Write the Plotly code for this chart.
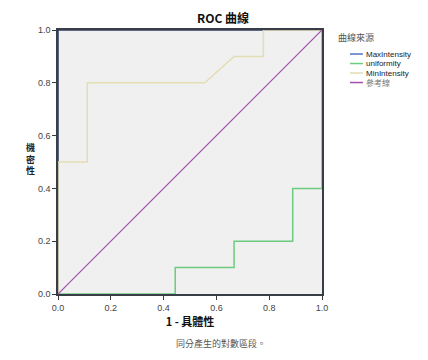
import plotly.graph_objects as go

# Data
max_x = [0.0, 0.0, 1.0]
max_y = [0.0, 1.0, 1.0]
uni_x = [0.0, 0.444, 0.444, 0.667, 0.667, 0.889, 0.889, 1.0, 1.0]
uni_y = [0.0, 0.0, 0.1, 0.1, 0.2, 0.2, 0.4, 0.4, 1.0]
min_x = [0.0, 0.0, 0.111, 0.111, 0.556, 0.667, 0.778, 0.778, 1.0]
min_y = [0.0, 0.5, 0.5, 0.8, 0.8, 0.9, 0.9, 1.0, 1.0]
ref_x = [0.0, 1.0]
ref_y = [0.0, 1.0]
tick_vals = [0.0, 0.2, 0.4, 0.6, 0.8, 1.0]
tick_text = ["0.0", "0.2", "0.4", "0.6", "0.8", "1.0"]
series_names = ["MaxIntensity", "uniformity", "MinIntensity", "參考線"]
series_colors = ["#5470C6", "#6CCB7E", "#E3DDB4", "#A04FAA"]
# colours of the marks where they run under the dark frame
plot_colors = ["#2F3B66", "#6CCB7E", "#E3DDB4", "#A04FAA"]

LAT = "Liberation Sans, Arial, sans-serif"
CJK = "Noto Sans CJK TC, sans-serif"

fig = go.Figure()
xs = [max_x, uni_x, min_x, ref_x]
ys = [max_y, uni_y, min_y, ref_y]
widths = [1.5, 1.5, 1.5, 1.2]
for x, y, n, c, w in zip(xs, ys, series_names, plot_colors, widths):
    fig.add_trace(go.Scatter(x=x, y=y, mode="lines", name=n,
                             line=dict(color=c, width=w), cliponaxis=False,
                             showlegend=False))

axis_common = dict(range=[0, 1], tickvals=tick_vals, ticktext=tick_text,
                   showgrid=False, zeroline=False, showline=True,
                   linecolor="rgba(25,30,40,0.86)", linewidth=1.6, ticks="outside",
                   ticklen=4, tickcolor="#3a3a3a", automargin=False,
                   tickfont=dict(family=LAT, size=9, color="#444"), mirror=True)

fig.update_layout(
    width=420, height=352,
    margin=dict(l=50, r=106, t=22, b=66),
    paper_bgcolor="white", plot_bgcolor="#F0F0F0",
    title=dict(text="<b>ROC 曲線</b>", x=0.512, xanchor="center", y=0.969, yanchor="middle",
               font=dict(family=CJK, size=12, color="#111")),
    xaxis=dict(**axis_common,
               title=dict(text="<b>1 - 具體性</b>", font=dict(family=CJK, size=11, color="#111"),
                          standoff=5)),
    yaxis=dict(**axis_common),
    showlegend=False,
)

# y-axis title, stacked characters
fig.add_annotation(text="<b>機<br>密<br>性</b>", xref="paper", yref="paper",
                   x=-0.106, y=0.51, xanchor="center", yanchor="middle", showarrow=False,
                   align="center", font=dict(family=CJK, size=9, color="#222"))

# custom compact legend
fig.add_annotation(text="曲線來源", xref="paper", yref="paper", x=1.129, y=0.970,
                   xanchor="center", yanchor="middle", showarrow=False,
                   font=dict(family=CJK, size=9, color="#555"))
leg_y = [0.909, 0.873, 0.837, 0.801]
for n, c, yy in zip(series_names, series_colors, leg_y):
    fig.add_shape(type="line", xref="paper", yref="paper", x0=1.106, x1=1.155, y0=yy, y1=yy,
                  line=dict(color=c, width=1.5))
    fig.add_annotation(text=n, xref="paper", yref="paper", x=1.158, y=yy,
                       xanchor="left", yanchor="middle", showarrow=False,
                       font=dict(family=LAT if n != "參考線" else CJK, size=8,
                                 color="#222" if n != "參考線" else "#777"))

fig.add_annotation(text="同分產生的對數區段。", xref="paper", yref="paper",
                   x=0.617, y=-0.189, xanchor="center", yanchor="middle", showarrow=False,
                   font=dict(family=CJK, size=9, color="#555"))

fig.write_html("out.html")
